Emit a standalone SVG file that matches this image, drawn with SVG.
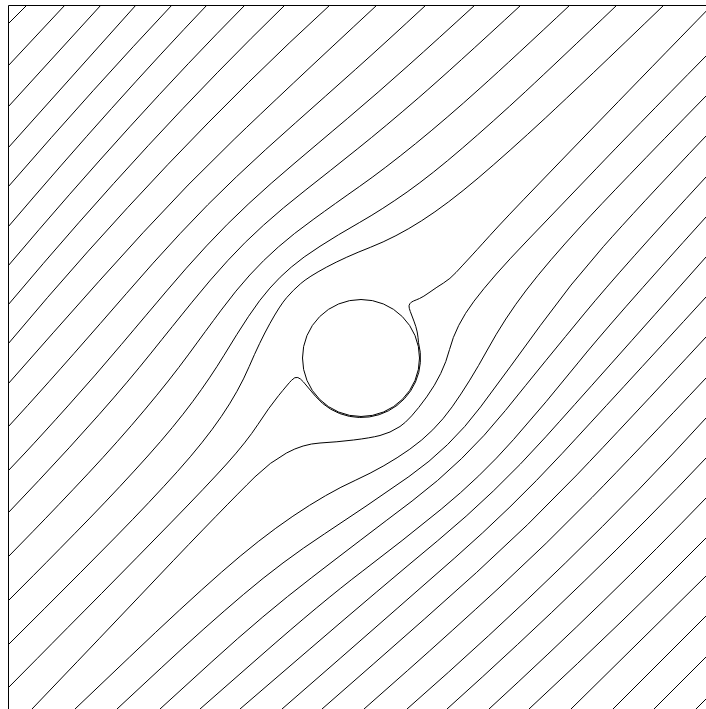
<svg xmlns="http://www.w3.org/2000/svg" width="706" height="709" viewBox="0 0 706 709">
<style>
.s{fill:none;stroke:#000;stroke-width:1}
</style>
<defs>
<clipPath id="clip"><rect x="8.5" y="5.5" width="698" height="704"/></clipPath>
</defs>
<rect width="706" height="709" fill="#fff"/>
<g id="streamlines" class="s" clip-path="url(#clip)">
<path d="M8,24 L27,5"/>
<path d="M8,66 L65,5"/>
<path d="M8,107 L101,5"/>
<path d="M8,148 L136,5"/>
<path d="M8,187 Q96.8,84.8 172,5"/>
<path d="M8,227 Q115.5,101 207,5"/>
<path d="M8,266 Q133.1,118.1 245,5"/>
<path d="M8,305 Q150.3,135.8 285,5"/>
<path d="M8,344 Q166.4,154.9 330,5"/>
<path d="M8,384 L53.7,332.2 Q99.4,280.3 143.4,232.3 Q187.3,184.3 234.2,139.3 Q281,94.2 377,5"/>
<path d="M8,427 L27.7,405.4 Q47.3,383.7 73.8,353.7 Q100.3,323.6 126.6,293.3 Q152.8,262.9 180.1,233.6 Q207.3,204.3 236.4,176.8 Q265.4,149.3 295.5,122.8 Q325.5,96.2 355.4,69.5 Q385.3,42.8 426,5"/>
<path d="M8,471 L25,453 Q41.9,434.9 68.7,405.1 Q95.4,375.3 121.3,344.6 Q147.2,313.9 166.7,290.9 Q186.1,267.9 206.5,245.9 Q226.9,223.9 248.9,203.5 Q270.9,183.1 294,163.7 Q317,144.2 347.7,118.3 Q378.3,92.4 408.1,65.7 Q437.9,39 475,5"/>
<path d="M8,513 L38.7,480.6 Q69.3,448.1 99.2,414.4 Q129,380.6 151,353.1 Q173,325.6 192,302.2 Q211,278.7 228,260.3 Q244.9,241.9 263.5,225.2 Q282.1,208.4 305.9,189.8 Q329.7,171.1 357.2,149.1 Q384.7,127.1 418.8,97.6 Q452.9,68 521,5"/>
<path d="M8,557 L32.6,531.8 Q57.1,506.6 87.9,473.8 Q118.6,440.9 144.4,410.2 Q170.2,379.4 188.2,354.9 Q206.1,330.4 221.2,310.1 Q236.3,289.8 249.8,275 Q263.2,260.2 278.3,247 Q293.3,233.8 313.9,219 Q334.4,204.1 359.3,186.6 Q384.2,169.1 415.4,143.8 Q446.6,118.4 480.1,88.2 Q513.6,58 570,5"/>
<path d="M8,601 L33.2,575.7 Q58.4,550.3 89.8,518.1 Q121.1,485.8 147.8,456 Q174.5,426.1 192.6,401.7 Q210.6,377.3 224,355.3 Q237.3,333.3 248.6,316.3 Q259.9,299.3 269.9,288.1 Q279.8,276.8 291.3,267.1 Q302.7,257.3 320,246.3 Q337.2,235.2 359.7,222.4 Q382.2,209.5 407.1,192 Q431.9,174.4 462.3,148.2 Q492.7,122 525.7,91.4 Q558.6,60.7 617,5"/>
<path d="M8,645 L44.3,608.8 Q80.6,572.6 115.7,536.9 Q150.7,501.2 177.5,471.4 Q204.2,441.6 221.4,416.4 Q238.6,391.2 249.2,366.5 Q259.8,341.7 269.9,323.5 Q280,305.3 286.6,297.7 Q293.1,290.1 300.7,283.6 Q308.2,277 326.6,267.1 Q345,257.2 370.4,247.3 Q395.8,237.3 421.7,220.7 Q447.5,204.1 478.1,178.1 Q508.6,152.1 545.3,118.1 Q582,84 664,5"/>
<path d="M8,688 L37.2,658.5 Q66.3,629 101.5,593.5 Q136.6,557.9 171.5,522.1 Q206.4,486.3 226.6,464 Q246.7,441.6 257.9,424.5 Q269,407.4 278.5,395.7 Q288,384 291.5,380.3 Q295,376.5 297.8,377.5 Q300.5,378.5 303.3,381.8 Q306,385 315.4,396.2 A59.5,59.5 0 0 0 418.5,342.6 L418,337.3 Q417.5,332 415.8,326.5 Q414,321 412,316 Q410,311 409.3,308.3 Q408.5,305.5 409.8,303.8 Q411,302 413.5,301 Q416,300 419.5,298.5 Q423,297 430,292 Q437,287 443.5,283 Q450,279 456,272.5 Q462,266 468.5,259 Q475,252 489.9,235.5 Q504.8,219 539.6,183 Q574.3,147 609.1,111.1 Q643.8,75.2 713.6,3.5"/>
<path d="M32,709 L77.2,661.7 Q122.4,614.3 156.8,578 Q191.2,541.7 215.6,516.7 Q240,491.6 255,476.8 Q270,462 286.5,453 Q303,444 320,443 Q337,442 353.5,440 Q370,438 380,435.5 Q390,433 400,426.5 Q410,420 426.7,396.9 Q443.3,373.8 449.5,349.6 Q455.7,325.4 474,301.2 Q492.2,277 526.9,241 Q561.5,205 596.1,168.8 Q630.6,132.6 706,56"/>
<path d="M75,709 L129.5,657.1 Q183.9,605.2 221.6,572.1 Q259.2,539 292.9,516.2 Q326.6,493.3 355.8,480.1 Q384.9,466.8 409.8,449.2 Q434.6,431.6 452.2,406.8 Q469.8,381.9 487.3,350 Q504.8,318 526.4,290 Q547.9,262 581.8,225.2 Q615.7,188.4 706,96"/>
<path d="M117,709 L161.2,667.9 Q205.4,626.7 243.7,594.3 Q281.9,561.8 324.6,533.8 Q367.3,505.7 408.9,476.6 Q450.4,447.4 480.6,406.9 Q510.8,366.3 540.5,325.3 Q570.1,284.2 603.3,246.7 Q636.4,209.2 706,136"/>
<path d="M160,709 L211.9,661.7 Q263.8,614.3 311.8,577.5 Q359.7,540.6 412.1,501 Q464.4,461.4 505.4,410.5 Q546.4,359.6 584.8,313.1 Q623.2,266.6 706,177"/>
<path d="M200,709 L261,655.5 Q322,601.9 362.2,571.4 Q402.4,540.9 441.3,509.1 Q480.2,477.2 513.4,439.7 Q546.5,402.1 578,362.9 Q609.5,323.7 706,217"/>
<path d="M240,709 L309.9,648.9 Q379.7,588.8 437.7,540.7 Q495.6,492.6 545.8,436.8 Q596,380.9 706,257"/>
<path d="M282,709 L340.2,658.3 Q398.3,607.5 454.8,557.9 Q511.3,508.3 562.3,453.3 Q613.3,398.2 706,297"/>
<path d="M322,709 L373.2,664.2 Q424.4,619.4 476.5,572.5 Q528.5,525.5 576.9,474.9 Q625.2,424.2 706,337"/>
<path d="M364,709 L407.6,670.5 Q451.1,631.9 499,587.9 Q546.8,543.8 592.2,497.3 Q637.6,450.7 706,378"/>
<path d="M407,709 Q574.9,561.9 706,418"/>
<path d="M447,709 Q591.9,578.9 706,458"/>
<path d="M489,709 Q609.9,597.9 706,498"/>
<path d="M529,709 Q628.5,616.5 706,538"/>
<path d="M571,709 L706,576"/>
<path d="M613,709 L706,616"/>
<path d="M654,709 L706,657"/>
<path d="M696,709 L706,699"/>
</g>
<g id="cylinder">
<circle cx="361" cy="358" r="58.5" fill="none" stroke="#000" stroke-width="1"/>
</g>
<g id="frame">
<path d="M8.5,709 V5.5 H706" fill="none" stroke="#000" stroke-width="1"/>
</g>
</svg>
